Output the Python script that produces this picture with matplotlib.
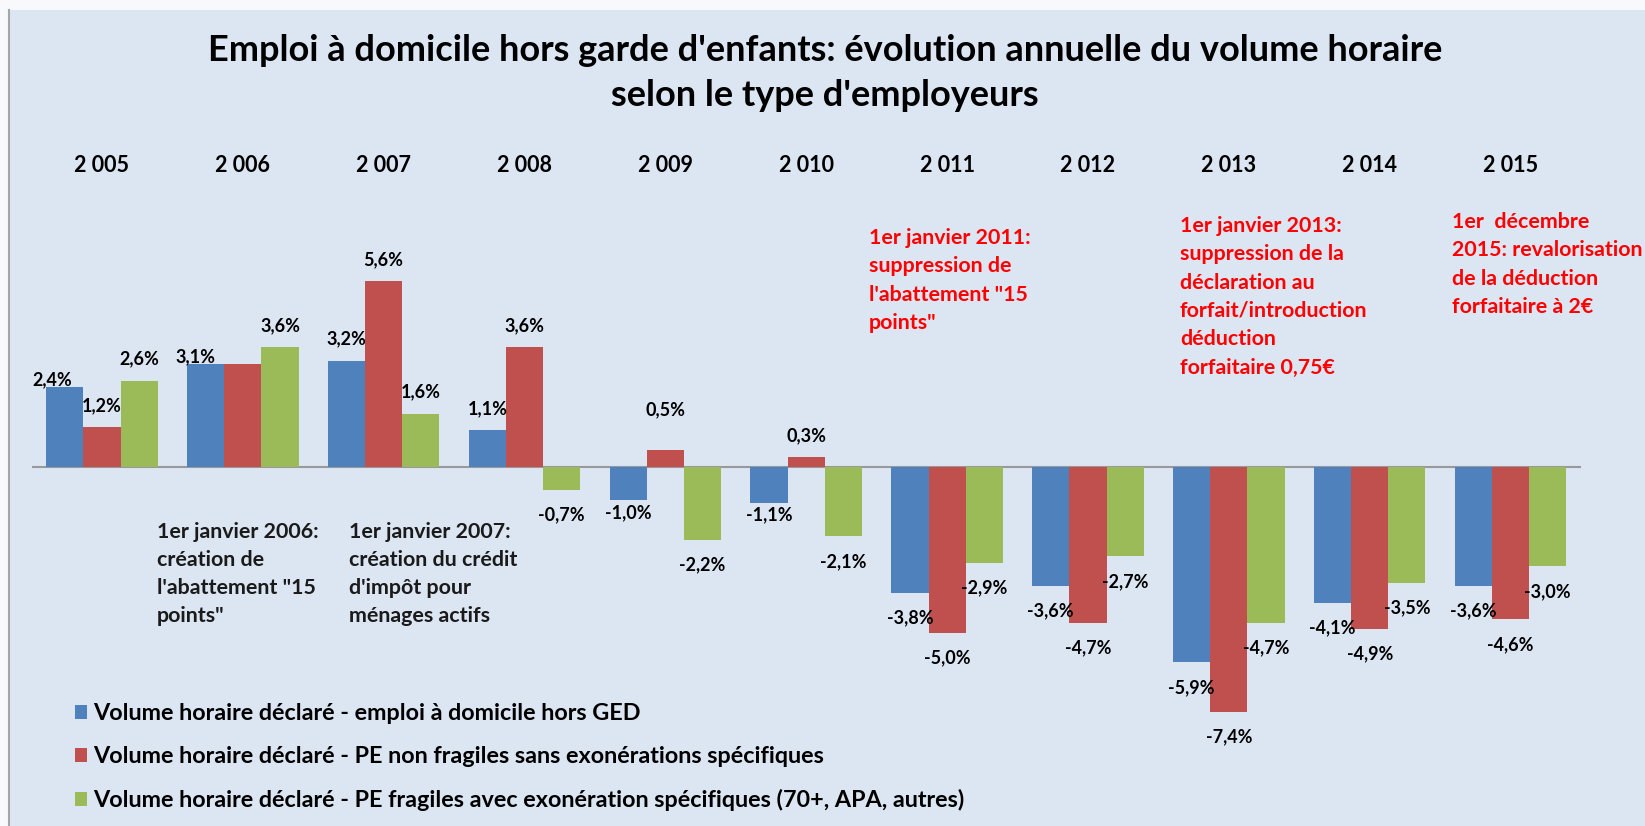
import matplotlib
matplotlib.use("Agg")
import matplotlib.pyplot as plt
from matplotlib.patches import Rectangle
import numpy as np

plt.rcParams['font.family'] = ['Lato', 'DejaVu Sans']
plt.rcParams['font.weight'] = 'bold'

years = ["2 005", "2 006", "2 007", "2 008", "2 009", "2 010",
         "2 011", "2 012", "2 013", "2 014", "2 015"]
ged = [2.4, 3.1, 3.2, 1.1, -1.0, -1.1, -3.8, -3.6, -5.9, -4.1, -3.6]
non_fragiles = [1.2, 3.1, 5.6, 3.6, 0.5, 0.3, -5.0, -4.7, -7.4, -4.9, -4.6]
fragiles = [2.6, 3.6, 1.6, -0.7, -2.2, -2.1, -2.9, -2.7, -4.7, -3.5, -3.0]
series_names = [
    "Volume horaire déclaré - emploi à domicile hors GED",
    "Volume horaire déclaré - PE non fragiles sans exonérations spécifiques",
    "Volume horaire déclaré - PE fragiles avec exonération spécifiques (70+, APA, autres)",
]
title = ("Emploi à domicile hors garde d'enfants: évolution annuelle du volume horaire\n"
         "selon le type d'employeurs")
notes_black = [
    "1er janvier 2006:\ncréation de\nl'abattement \"15\npoints\"",
    "1er janvier 2007:\ncréation du crédit\nd'impôt pour\nménages actifs",
]
notes_red = [
    "1er janvier 2011:\nsuppression de\nl'abattement \"15\npoints\"",
    "1er janvier 2013:\nsuppression de la\ndéclaration au\nforfait/introduction\ndéduction\nforfaitaire 0,75€",
    "1er  décembre\n2015: revalorisation\nde la déduction\nforfaitaire à 2€",
]

colors = ['#4F81BD', '#C0504D', '#9BBB59']
bg = '#DCE6F2'

W, H = 1645, 826
fig = plt.figure(figsize=(W / 100, H / 100), dpi=100)
fig.patch.set_facecolor(bg)

# frame of the original screenshot
fig.patches.append(Rectangle((0, 1 - 10 / H), 1, 10 / H, transform=fig.transFigure,
                             facecolor='#F7F9FC', edgecolor='none', zorder=0))
fig.patches.append(Rectangle((0, 0), 8 / W, 1, transform=fig.transFigure,
                             facecolor='#F7F9FC', edgecolor='none', zorder=0))
fig.add_artist(plt.Line2D([8.5 / W, 8.5 / W], [0, 1 - 10 / H], transform=fig.transFigure,
                          color='#A6A6A6', lw=1.5))

left, right = 31.5, 1581
ax = fig.add_axes([left / W, 0, (right - left) / W, 1])
ax.set_facecolor('none')
ax.axis('off')
zero_px, per_pct = 466.8, 33.15
ax.set_ylim(-(H - zero_px) / per_pct, zero_px / per_pct)
ax.set_xlim(-0.5, 10.5)

x = np.arange(len(years))
w = 0.264
all_series = [ged, non_fragiles, fragiles]
bars = []
for i, (vals, c, name) in enumerate(zip(all_series, colors, series_names)):
    b = ax.bar(x + (i - 1) * w, vals, w, color=c, label=name, zorder=2)
    bars.append(b)

ax.axhline(0, color='#999999', lw=1.5, zorder=1)

# data labels (a few were moved by hand in the original)
skip = {(1, 1)}
shift = {(0, 0): (-9, -10), (0, 1): (-7, -10), (1, 4): (0, 14),
         (0, 4): (0, 9), (0, 5): (0, 10)}
for i, vals in enumerate(all_series):
    for j, v in enumerate(vals):
        if (i, j) in skip:
            continue
        dx, dy = shift.get((i, j), (0, 0))
        base = 15.5 if v >= 0 else -18
        ax.annotate(f"{v:.1f}%".replace('.', ','), (x[j] + (i - 1) * w, v),
                    xytext=(dx, base + dy), textcoords='offset points',
                    ha='center', va='center', fontsize=13, fontweight='bold', zorder=3)

# year labels on top
for j, yl in enumerate(years):
    ax.text(x[j], (zero_px - 166) / per_pct, yl, ha='center', va='center',
            fontsize=15.5, fontweight='bold')

def px_to_x(px):
    return (px - left) / ((right - left) / 11) - 0.5

def px_to_y(py):
    return (zero_px - py) / per_pct

note_size = 15.4
black_pos = [(157, 522), (349, 522)]
for txt, (px, py) in zip(notes_black, black_pos):
    ax.text(px_to_x(px), px_to_y(py), txt, ha='left', va='top', fontsize=note_size,
            fontweight='bold', color='#1A1A1A', linespacing=1.5)

red_pos = [(869, 228), (1180, 216), (1452, 212)]
for txt, (px, py) in zip(notes_red, red_pos):
    ax.text(px_to_x(px), px_to_y(py), txt, ha='left', va='top', fontsize=note_size,
            fontweight='bold', color='#FF0000', linespacing=1.52, clip_on=False)

fig.text(825 / W, 1 - 73 / H, title, ha='center', va='center', fontsize=26,
         fontweight='bold', linespacing=1.42)

fig.legend(handles=bars, labels=series_names, loc='upper left',
           bbox_to_anchor=(75 / W, 1 - 703 / H), frameon=False, fontsize=16.8,
           handlelength=0.52, handleheight=0.52, handletextpad=0.25,
           labelspacing=0.95, borderpad=0, borderaxespad=0)

fig.savefig("out.png", dpi=100, facecolor=bg)
